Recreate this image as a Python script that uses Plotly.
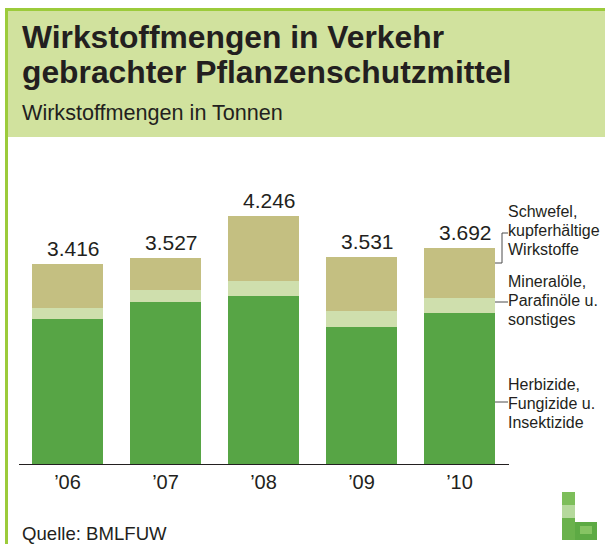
import plotly.graph_objects as go

# ---- data ----
years = ["'06", "'07", "'08", "'09", "'10"]
tick_labels = ["\u201906", "\u201907", "\u201908", "\u201909", "\u201910"]
herbizide = [2479, 2769, 2872, 2342, 2581]
mineraloele = [188, 205, 256, 274, 256]
schwefel = [749, 553, 1118, 915, 855]
totals = [3416, 3527, 4246, 3531, 3692]
total_labels = ["3.416", "3.527", "4.246", "3.531", "3.692"]
series_names = ["Herbizide, Fungizide u. Insektizide",
                "Mineralöle, Parafinöle u. sonstiges",
                "Schwefel, kupferhältige Wirkstoffe"]
legend_lines = [["Schwefel,", "kupferhältige", "Wirkstoffe"],
                ["Mineralöle,", "Parafinöle u.", "sonstiges"],
                ["Herbizide,", "Fungizide u.", "Insektizide"]]
title_lines = ["Wirkstoffmengen in Verkehr", "gebrachter Pflanzenschutzmittel"]
subtitle = "Wirkstoffmengen in Tonnen"
source = "Quelle: BMLFUW"

W, H = 605, 544
FONT = "Liberation Sans, Arial, sans-serif"
TXT = "#231F20"
C_GREEN = "#57A545"
C_LIGHT = "#CFDFAD"
C_TAN = "#C4BF81"
C_HEAD = "#D1E29E"
C_BORDER = "#9CCB3B"

def px(x):
    return x / W

def py(y):
    return 1 - y / H

x_idx = list(range(len(years)))
fig = go.Figure()
for vals, col, name in [(herbizide, C_GREEN, series_names[0]),
                        (mineraloele, C_LIGHT, series_names[1]),
                        (schwefel, C_TAN, series_names[2])]:
    fig.add_bar(x=x_idx, y=vals, marker=dict(color=col, line=dict(width=0)),
                name=name, hoverinfo="y+name")

shapes = []
# header background and borders
shapes.append(dict(type="rect", xref="paper", yref="paper", x0=px(7), x1=1,
                   y0=py(137), y1=py(10), fillcolor=C_HEAD, line=dict(width=0), layer="below"))
shapes.append(dict(type="rect", xref="paper", yref="paper", x0=px(5), x1=1,
                   y0=py(11), y1=py(8), fillcolor=C_BORDER, line=dict(width=0)))
shapes.append(dict(type="rect", xref="paper", yref="paper", x0=px(5), x1=px(8),
                   y0=0, y1=py(8), fillcolor=C_BORDER, line=dict(width=0)))
# connector lines
lc = dict(color="#4D4D4D", width=1)
shapes.append(dict(type="path", xref="paper", yref="paper",
                   path=f"M {px(495)} {py(263)} L {px(502)} {py(263)} L {px(502)} {py(233)} L {px(508)} {py(233)}",
                   line=lc))
shapes.append(dict(type="line", xref="paper", yref="paper", x0=px(495), x1=px(508),
                   y0=py(302), y1=py(302), line=lc))
shapes.append(dict(type="line", xref="paper", yref="paper", x0=px(495), x1=px(508),
                   y0=py(402), y1=py(402), line=lc))
# logo (L shape, grass-like greens)
logo_rects = [
    (562, 575, 492, 505, "#7DBE5A"),
    (562, 575, 505, 518, "#B5D99C"),
    (562, 575, 518, 540, "#6AB24C"),
    (575, 597, 522, 540, "#5DAA44"),
    (580, 592, 526, 534, "#86C463"),
]
for x0, x1, y0, y1, col in logo_rects:
    shapes.append(dict(type="rect", xref="paper", yref="paper", x0=px(x0), x1=px(x1),
                       y0=py(y1), y1=py(y0), fillcolor=col, line=dict(width=0)))

ann = []
# totals
for i, (t, lab) in enumerate(zip(totals, total_labels)):
    ann.append(dict(x=i, y=t, xref="x", yref="y", text=lab, showarrow=False,
                    yanchor="bottom", xanchor="center", xshift=6, yshift=2,
                    font=dict(family=FONT, size=21, color=TXT)))
# titles
for txt, cy in zip(title_lines, [37, 72]):
    ann.append(dict(x=px(20), y=py(cy), xref="paper", yref="paper", text=f"<b>{txt}</b>",
                    showarrow=False, xanchor="left", yanchor="middle",
                    font=dict(family=FONT, size=31.8, color=TXT)))
ann.append(dict(x=px(20), y=py(112.5), xref="paper", yref="paper", text=subtitle,
                showarrow=False, xanchor="left", yanchor="middle",
                font=dict(family=FONT, size=21.6, color=TXT)))
ann.append(dict(x=px(20), y=py(533.5), xref="paper", yref="paper", text=source,
                showarrow=False, xanchor="left", yanchor="middle",
                font=dict(family=FONT, size=18.6, color=TXT)))
# legend labels
for lines, ys in zip(legend_lines, [[211, 230, 249], [281, 300, 319], [384, 403, 422]]):
    for line, cy in zip(lines, ys):
        ann.append(dict(x=px(506), y=py(cy), xref="paper", yref="paper", text=line,
                        showarrow=False, xanchor="left", yanchor="middle",
                        font=dict(family=FONT, size=16, color=TXT)))

fig.update_layout(
    width=W, height=H, barmode="stack", bargap=0.276,
    margin=dict(l=0, r=0, t=0, b=0), paper_bgcolor="white", plot_bgcolor="rgba(0,0,0,0)",
    showlegend=False, shapes=shapes, annotations=ann,
    xaxis=dict(domain=[px(18.5), px(508.5)], range=[-0.5, 4.5], tickvals=x_idx,
               ticktext=tick_labels, showline=True, linecolor=TXT, linewidth=1,
               ticks="", showgrid=False, zeroline=False,
               tickfont=dict(family=FONT, size=20, color=TXT)),
    yaxis=dict(domain=[py(464), py(140)], range=[0, 324 / 0.0585], visible=False,
               showgrid=False, zeroline=False),
    font=dict(family=FONT, color=TXT),
)
fig.write_html("out.html", config={"displayModeBar": False},
               post_script="document.body.style.margin='0';document.body.style.padding='0';document.body.style.overflow='hidden';")
